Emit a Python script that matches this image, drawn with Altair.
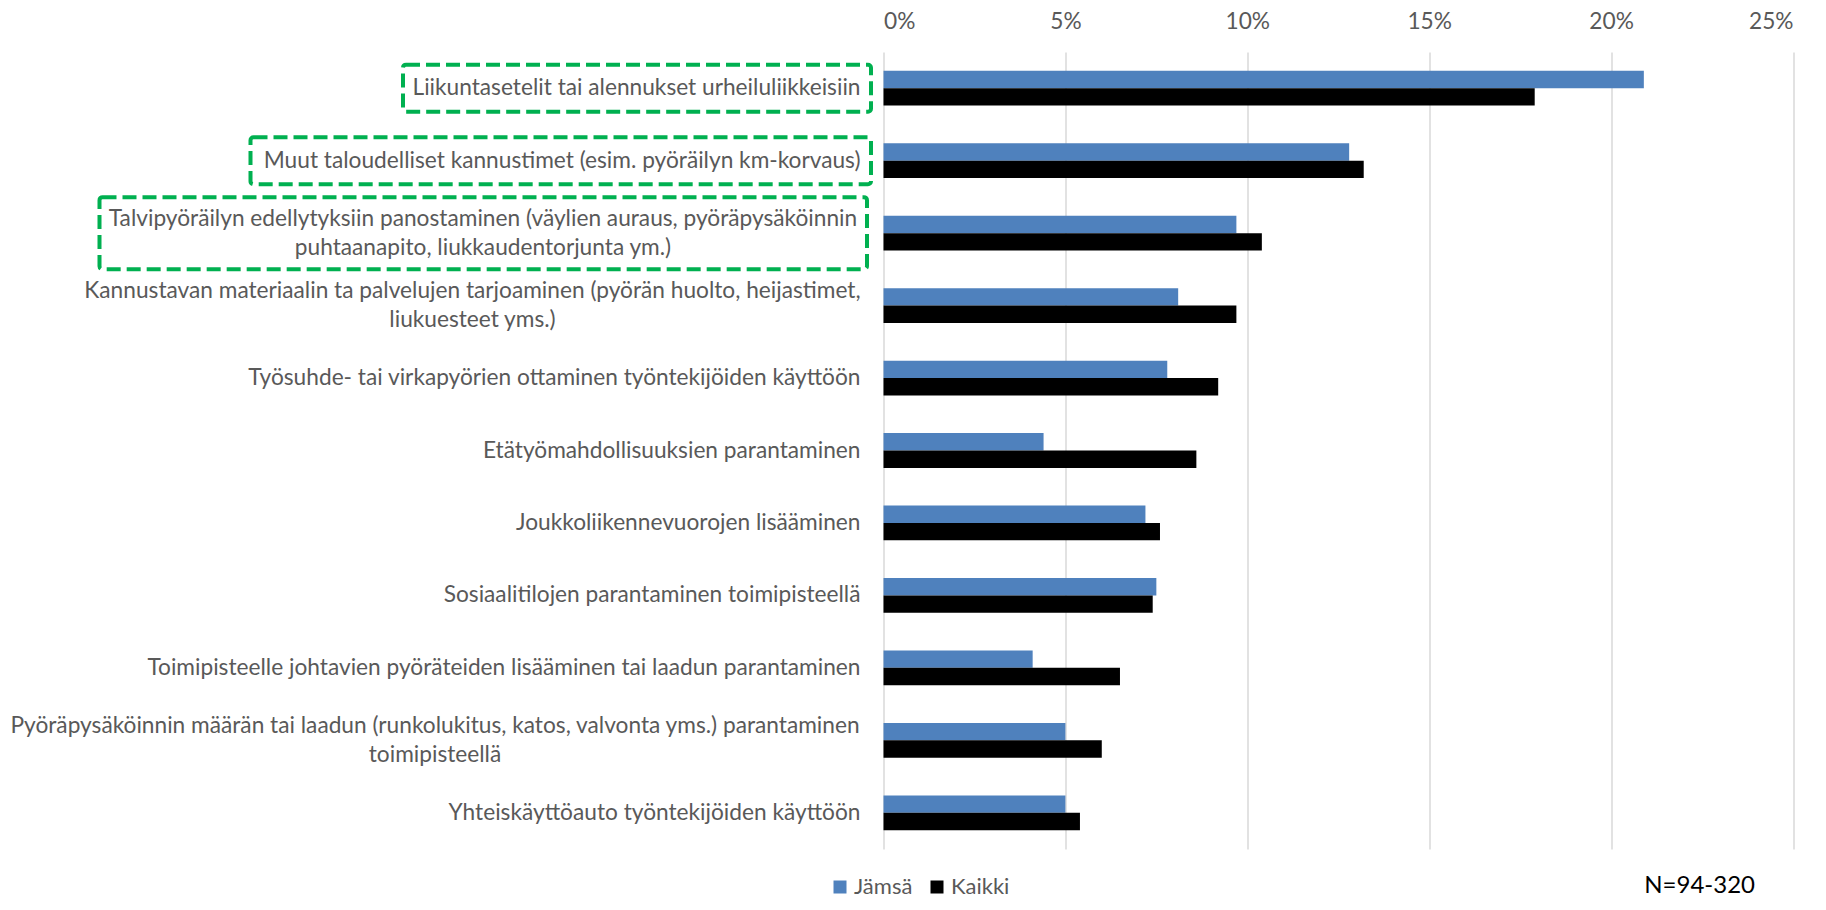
import altair as alt
import pandas as pd

# ---- data ----
categories = [
    "Liikuntasetelit tai alennukset urheiluliikkeisiin",
    "Muut taloudelliset kannustimet (esim. pyöräilyn km-korvaus)",
    "Talvipyöräilyn edellytyksiin panostaminen (väylien auraus, pyöräpysäköinnin\npuhtaanapito, liukkaudentorjunta ym.)",
    "Kannustavan materiaalin ta palvelujen tarjoaminen (pyörän huolto, heijastimet,\nliukuesteet yms.)",
    "Työsuhde- tai virkapyörien ottaminen työntekijöiden käyttöön",
    "Etätyömahdollisuuksien parantaminen",
    "Joukkoliikennevuorojen lisääminen",
    "Sosiaalitilojen parantaminen toimipisteellä",
    "Toimipisteelle johtavien pyöräteiden lisääminen tai laadun parantaminen",
    "Pyöräpysäköinnin määrän tai laadun (runkolukitus, katos, valvonta yms.) parantaminen\ntoimipisteellä",
    "Yhteiskäyttöauto työntekijöiden käyttöön",
]
jamsa = [20.9, 12.8, 9.7, 8.1, 7.8, 4.4, 7.2, 7.5, 4.1, 5.0, 5.0]
kaikki = [17.9, 13.2, 10.4, 9.7, 9.2, 8.6, 7.6, 7.4, 6.5, 6.0, 5.4]
series = ["Jämsä", "Kaikki"]
x_ticks = [0, 5, 10, 15, 20, 25]
note = "N=94-320"

rows = []
for c, a, b in zip(categories, jamsa, kaikki):
    rows.append({"category": c, "series": series[0], "value": a})
    rows.append({"category": c, "series": series[1], "value": b})
df = pd.DataFrame(rows)

FONT = "Lato"
GREY = "#595959"
LBL = 22.7

wrap_cond = "indexof(datum.value, '\\n') >= 0"

y_axis = alt.Axis(
    title=None, domain=False, ticks=False, tickSize=0,
    labelExpr="split(datum.label, '\\n')",
    labelFont=FONT, labelFontSize=LBL, labelColor=GREY,
    labelLineHeight=29, labelLimit=2000,
    labelAlign={"condition": {"test": wrap_cond, "value": "center"}, "value": "right"},
    labelOffset={"condition": {"test": wrap_cond, "value": -14.5}, "value": 0},
    labelPadding={
        "condition": [
            {"test": "indexof(datum.value, 'Talvipyöräilyn') == 0", "value": 401},
            {"test": "indexof(datum.value, 'Kannustavan') == 0", "value": 411.5},
            {"test": "indexof(datum.value, 'Pyöräpysäköinnin') == 0", "value": 449},
        ],
        "value": 23.5,
    },
)

y_enc = alt.Y(
    "category:N", sort=categories,
    scale=alt.Scale(paddingInner=0.52, paddingOuter=0.26),
    axis=y_axis,
)

bars = alt.Chart(df).mark_bar().encode(
    y=y_enc,
    yOffset=alt.YOffset("series:N", sort=series,
                        scale=alt.Scale(paddingInner=0, paddingOuter=0)),
    x=alt.X(
        "value:Q",
        scale=alt.Scale(domain=[0, 25], nice=False),
        axis=alt.Axis(
            orient="top", values=x_ticks, labelExpr="datum.value + '%'",
            title=None, domain=False, ticks=False, tickSize=0,
            grid=True, gridColor="#D9D9D9", gridWidth=1.5,
            labelFont=FONT, labelFontSize=LBL, labelColor=GREY,
            labelBaseline="alphabetic", labelPadding=23.5,
        ),
    ),
    color=alt.Color(
        "series:N", sort=series,
        scale=alt.Scale(domain=series, range=["#4F81BD", "#000000"]),
        legend=alt.Legend(
            title=None, orient="none", legendX=-54.5, legendY=824,
            direction="horizontal", symbolType="square", symbolSize=169,
            symbolStrokeWidth=0, labelFont=FONT, labelFontSize=22,
            labelColor=GREY, columnPadding=13, labelOffset=3,
        ),
    ),
)


def box(cat, left, right, h):
    return alt.Chart(pd.DataFrame({"category": [cat]})).mark_bar(
        fillOpacity=0, stroke="#00B050", strokeWidth=4,
        strokeDash=[14, 6], cornerRadius=3,
    ).encode(
        y=y_enc, x=alt.value(left), x2=alt.value(right), size=alt.value(h)
    )


chart = alt.layer(
    bars,
    box(categories[0], -480.5, -12.5, 47),
    box(categories[1], -633, -12.5, 47),
    box(categories[2], -784, -16.5, 72),
).properties(
    width=909.5, height=797,
    autosize=alt.AutoSizeParams(type="none"),
    padding={"left": 875.5, "top": 44, "right": 25, "bottom": 53},
    title=alt.TitleParams(
        text=note, orient="bottom", anchor="end", frame="group",
        font=FONT, fontSize=24, fontWeight="normal", color="#000000",
        baseline="alphabetic", offset=-5, dx=-38,
    ),
).configure_view(stroke=None)

chart.save("out.html", embed_options={"renderer": "svg", "actions": False})
